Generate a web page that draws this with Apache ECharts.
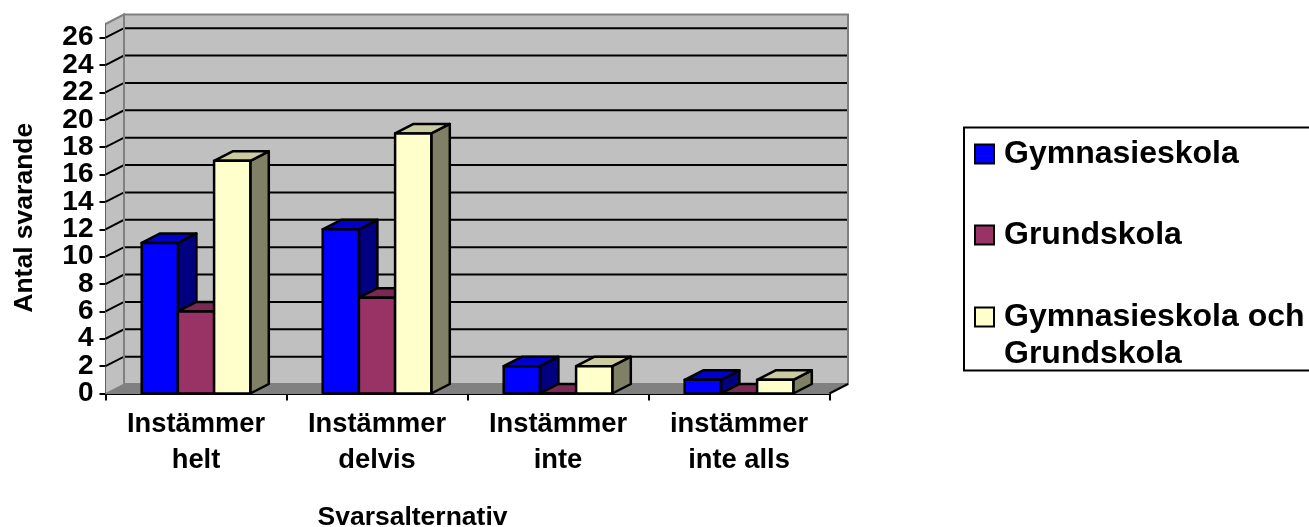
<!DOCTYPE html>
<html>
<head>
<meta charset="utf-8">
<style>html,body{margin:0;padding:0;background:#fff}#c{width:1309px;height:527px}</style>
<script src="https://cdn.jsdelivr.net/npm/echarts@6/dist/echarts.min.js"></script>
</head>
<body>
<div id="c"></div>
<script>
const categories = ['Instämmer\nhelt', 'Instämmer\ndelvis', 'Instämmer\ninte', 'instämmer\ninte alls'];
const seriesNames = ['Gymnasieskola', 'Grundskola', 'Gymnasieskola och\nGrundskola'];
const gymnasieskola = [11, 12, 2, 1];
const grundskola = [6, 7, 0, 0];
const bada = [17, 19, 2, 1];
const yTicks = [0, 2, 4, 6, 8, 10, 12, 14, 16, 18, 20, 22, 24, 26];
const yLabelsA = [0, 4, 8, 12, 16, 20, 24];
const yLabelsB = [2, 6, 10, 14, 18, 22, 26];
const FONT = '"Liberation Sans", Arial, sans-serif';
const DX = 18.5, DY = -9.5;

const chart = echarts.init(document.getElementById('c'), null, {renderer: 'canvas'});
const lineS = {stroke: '#000', lineWidth: 2};

function wallItem(params, api) {
  const p0 = api.coord([0, 0]);
  const bw = api.size([1, 0])[0];
  const xL = p0[0] - bw / 2, xR = xL + bw * categories.length;
  const yB = p0[1], yT = api.coord([0, 27])[1];
  const kids = [];
  const gray = {fill: '#C0C0C0', stroke: '#808080', lineWidth: 2};
  kids.push({type: 'polygon', shape: {points: [[xL + DX, yB + DY], [xR + DX, yB + DY], [xR + DX, yT + DY], [xL + DX, yT + DY]]}, style: gray});
  kids.push({type: 'polygon', shape: {points: [[xL, yB], [xL + DX, yB + DY], [xL + DX, yT + DY], [xL, yT]]}, style: {fill: '#C0C0C0', stroke: null}});
  kids.push({type: 'polygon', shape: {points: [[xL, yB], [xR, yB], [xR + DX, yB + DY], [xL + DX, yB + DY]]}, style: {fill: '#808080', stroke: '#808080', lineWidth: 1}});
  yTicks.forEach(function (t) {
    if (t === 0) return;
    const y = api.coord([0, t])[1];
    kids.push({type: 'polyline', shape: {points: [[xL, y], [xL + DX, y + DY], [xR + DX, y + DY]]}, style: {stroke: '#000', lineWidth: 2, fill: null}});
  });
  kids.push({type: 'polyline', shape: {points: [[xL, yT], [xL + DX, yT + DY], [xL + DX, yB + DY]]}, style: {stroke: '#808080', lineWidth: 2, fill: null}});
  kids.push({type: 'line', shape: {x1: xR + DX, y1: yT + DY, x2: xR + DX, y2: yB + DY}, style: {stroke: '#808080', lineWidth: 2}});
  kids.push({type: 'line', shape: {x1: xR, y1: yB, x2: xR + DX, y2: yB + DY}, style: lineS});
  return {type: 'group', children: kids};
}

function barMaker(offset, front, side, top) {
  return function (params, api) {
    const cat = api.value(0), val = api.value(1);
    const c = api.coord([cat, val]), b = api.coord([cat, 0]);
    const bw = api.size([1, 0])[0];
    const w = bw / 5;
    const x0 = c[0] - bw / 2 + w * (offset + 1), x1 = x0 + w;
    const yT = c[1], yB = b[1];
    const st = {stroke: '#000', lineWidth: 2.5, lineJoin: 'round'};
    return {type: 'group', children: [
      {type: 'polygon', shape: {points: [[x1, yB], [x1 + DX, yB + DY], [x1 + DX, yT + DY], [x1, yT]]}, style: Object.assign({fill: side}, st)},
      {type: 'polygon', shape: {points: [[x0, yT], [x1, yT], [x1 + DX, yT + DY], [x0 + DX, yT + DY]]}, style: Object.assign({fill: top}, st)},
      {type: 'rect', shape: {x: x0, y: yT, width: w, height: yB - yT}, style: Object.assign({fill: front}, st)}
    ]};
  };
}

function barSeries(i, vals, front, side, top) {
  return {
    type: 'custom', name: seriesNames[i], z: 3 + i, clip: false,
    renderItem: barMaker(i, front, side, top),
    encode: {x: 0, y: 1},
    itemStyle: {color: front, borderColor: '#000', borderWidth: 2},
    data: vals.map(function (v, k) { return [k, v]; })
  };
}

const legendText = {fontFamily: FONT, fontWeight: 'bold', fontSize: 32, color: '#000', lineHeight: 37, padding: [7, 0, 0, 5]};
const yLabelStyle = {fontFamily: FONT, fontWeight: 'bold', fontSize: 28, color: '#000', margin: 12};

chart.setOption({
  animation: false,
  backgroundColor: '#fff',
  textStyle: {fontFamily: FONT},
  grid: {left: 105.5, top: 24, width: 724, height: 369.5, containLabel: false, outerBoundsMode: 'none'},
  graphic: [{
    type: 'rect', z: 0, silent: true,
    shape: {x: 964, y: 127.5, width: 360, height: 243},
    style: {fill: '#fff', stroke: '#000', lineWidth: 2}
  }],
  legend: [{
    left: 974, top: 132, orient: 'vertical', icon: 'rect', itemWidth: 19, itemHeight: 19, itemGap: 37,
    padding: 0, selectedMode: false, z: 5,
    data: seriesNames.slice(0, 2),
    textStyle: legendText
  }, {
    left: 974, top: 258, orient: 'vertical', icon: 'rect', itemWidth: 19, itemHeight: 19,
    padding: 0, selectedMode: false, z: 5,
    data: [seriesNames[2]],
    formatter: function (n) { return '\n' + n; },
    textStyle: legendText
  }],
  xAxis: {
    type: 'category', data: categories, name: 'Svarsalternativ', nameLocation: 'middle', nameGap: 111,
    nameTextStyle: {fontFamily: FONT, fontWeight: 'bold', fontSize: 26.5, color: '#000', padding: [0, 110, 0, 0]},
    axisLine: {onZero: false, lineStyle: {color: '#000', width: 2}},
    axisTick: {show: true, alignWithLabel: false, length: 7, lineStyle: {color: '#000', width: 2}},
    axisLabel: {fontFamily: FONT, fontWeight: 'bold', fontSize: 27.3, color: '#000', lineHeight: 36, margin: 13, interval: 0},
    splitLine: {show: false}
  },
  yAxis: [{
    type: 'value', position: 'left', min: 0, max: 27, interval: 2, name: 'Antal svarande', nameLocation: 'middle', nameGap: 67, nameRotate: 90,
    nameTextStyle: {fontFamily: FONT, fontWeight: 'bold', fontSize: 26.5, color: '#000', padding: [0, 18, 0, 0]},
    axisLine: {show: true, lineStyle: {color: '#000', width: 2}},
    axisTick: {show: true, length: 6, customValues: yTicks, lineStyle: {color: '#000', width: 2}},
    axisLabel: Object.assign({customValues: yLabelsA}, yLabelStyle),
    splitLine: {show: false}
  }, {
    type: 'value', position: 'left', offset: 0, min: 0, max: 27, interval: 2,
    axisLine: {show: false},
    axisTick: {show: false},
    axisLabel: Object.assign({customValues: yLabelsB}, yLabelStyle),
    splitLine: {show: false}
  }],
  series: [
    {type: 'custom', name: '__wall', silent: true, z: 1, clip: false, renderItem: wallItem, encode: {x: 0, y: 1}, data: [[0, 0]]},
    barSeries(0, gymnasieskola, '#0000FF', '#000080', '#0000CC'),
    barSeries(1, grundskola, '#993366', '#4D1A33', '#7A2952'),
    barSeries(2, bada, '#FFFFCC', '#808066', '#CCCCA3')
  ]
});
</script>
</body>
</html>
